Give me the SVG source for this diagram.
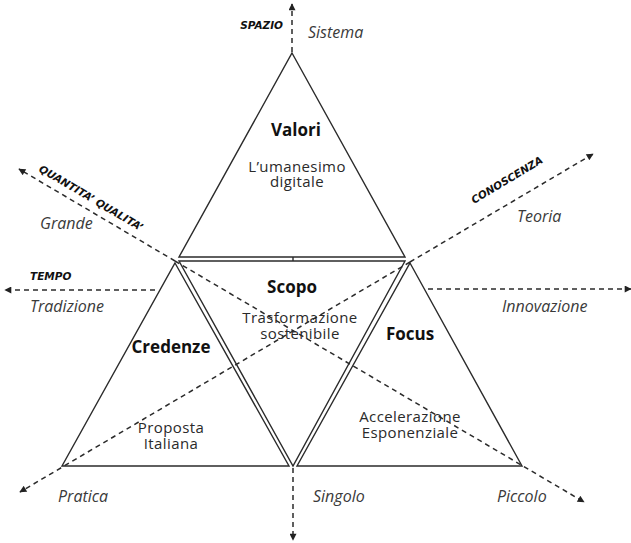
<svg xmlns="http://www.w3.org/2000/svg" width="631" height="543" viewBox="0 0 631 543">
  <defs>
    <marker id="arrow" viewBox="0 0 10 10" refX="9" refY="5" markerUnits="userSpaceOnUse" markerWidth="8" markerHeight="7" orient="auto">
      <path d="M0,0 L10,5 L0,10 Z" fill="#222"/>
    </marker>
    <style>
      .tri { fill: none; stroke: #2b2b2b; stroke-width: 1.4; stroke-linejoin: miter; }
      .axis { fill: none; stroke: #2b2b2b; stroke-width: 1.5; stroke-dasharray: 5 4; }
      .title { font-family: "Open Sans", "Liberation Sans", sans-serif; font-weight: 700; font-size: 17px; fill: #111; text-anchor: middle; }
      .body { font-family: "Open Sans", "Liberation Sans", sans-serif; font-size: 15px; letter-spacing: 0.4px; fill: #2a2a2a; text-anchor: middle; }
      .pole { font-family: "Open Sans", "Liberation Sans", sans-serif; font-style: italic; font-size: 16px; fill: #3a3a3a; }
      .axisname { font-family: "DejaVu Sans", "Liberation Sans", sans-serif; font-weight: 700; font-style: italic; font-size: 10.5px; fill: #111; }
    </style>
  </defs>

  <rect width="631" height="543" fill="#fff"/>

  <!-- dashed axes -->
  <g id="connectors">
    <line class="axis" x1="292" y1="52" x2="292" y2="4" marker-end="url(#arrow)"/>
    <line class="axis" x1="293" y1="468" x2="293" y2="540" marker-end="url(#arrow)"/>
    <line class="axis" x1="155" y1="290" x2="5" y2="290" marker-end="url(#arrow)"/>
    <line class="axis" x1="428" y1="289" x2="631" y2="289" marker-end="url(#arrow)"/>
    <line class="axis" x1="175" y1="261" x2="19" y2="169" marker-end="url(#arrow)"/>
    <line class="axis" x1="175" y1="261" x2="584" y2="502" marker-end="url(#arrow)"/>
    <line class="axis" x1="410" y1="262" x2="20" y2="492" marker-end="url(#arrow)"/>
    <line class="axis" x1="410" y1="262" x2="593" y2="154" marker-end="url(#arrow)"/>
  </g>

  <!-- Valori (top) -->
  <g id="valori">
    <polygon class="tri" points="292,53 405,257 179,257"/>
    <text class="title" x="296" y="136">Valori</text>
    <text class="body" x="297" y="172">L’umanesimo</text>
    <text class="body" x="297" y="187">digitale</text>
  </g>

  <!-- Scopo (inverted, centre) -->
  <g id="scopo">
    <polygon class="tri" points="179,261 405,261 293,466"/>
    <line class="tri" x1="293" y1="257" x2="293" y2="261"/>
    <text class="title" x="292" y="293">Scopo</text>
    <text class="body" x="300" y="323">Trasformazione</text>
    <text class="body" x="300" y="339">sostenibile</text>
  </g>

  <!-- Credenze (left) -->
  <g id="credenze">
    <polygon class="tri" points="175,263 289,466 62,466"/>
    <text class="title" x="171" y="353">Credenze</text>
    <text class="body" x="171" y="433">Proposta</text>
    <text class="body" x="171" y="449">Italiana</text>
  </g>

  <!-- Focus (right) -->
  <g id="focus">
    <polygon class="tri" points="410,263 522,466 297,466"/>
    <text class="title" x="410" y="340">Focus</text>
    <text class="body" x="410" y="422">Accelerazione</text>
    <text class="body" x="410" y="438">Esponenziale</text>
  </g>

  <!-- axis names and poles -->
  <g id="labels">
    <text class="axisname" x="283" y="29" text-anchor="end">SPAZIO</text>
    <text class="pole" x="308" y="38">Sistema</text>
    <text class="axisname" font-size="11.5" transform="translate(38,171) rotate(30.5)">QUANTITA’ QUALITA’</text>
    <text class="pole" x="40" y="229">Grande</text>
    <text class="axisname" x="30" y="280">TEMPO</text>
    <text class="pole" x="30" y="312">Tradizione</text>
    <text class="axisname" transform="translate(474,204) rotate(-31)">CONOSCENZA</text>
    <text class="pole" x="517" y="222">Teoria</text>
    <text class="pole" x="502" y="312">Innovazione</text>
    <text class="pole" x="58" y="502">Pratica</text>
    <text class="pole" x="313" y="502">Singolo</text>
    <text class="pole" x="497" y="502">Piccolo</text>
  </g>
</svg>
